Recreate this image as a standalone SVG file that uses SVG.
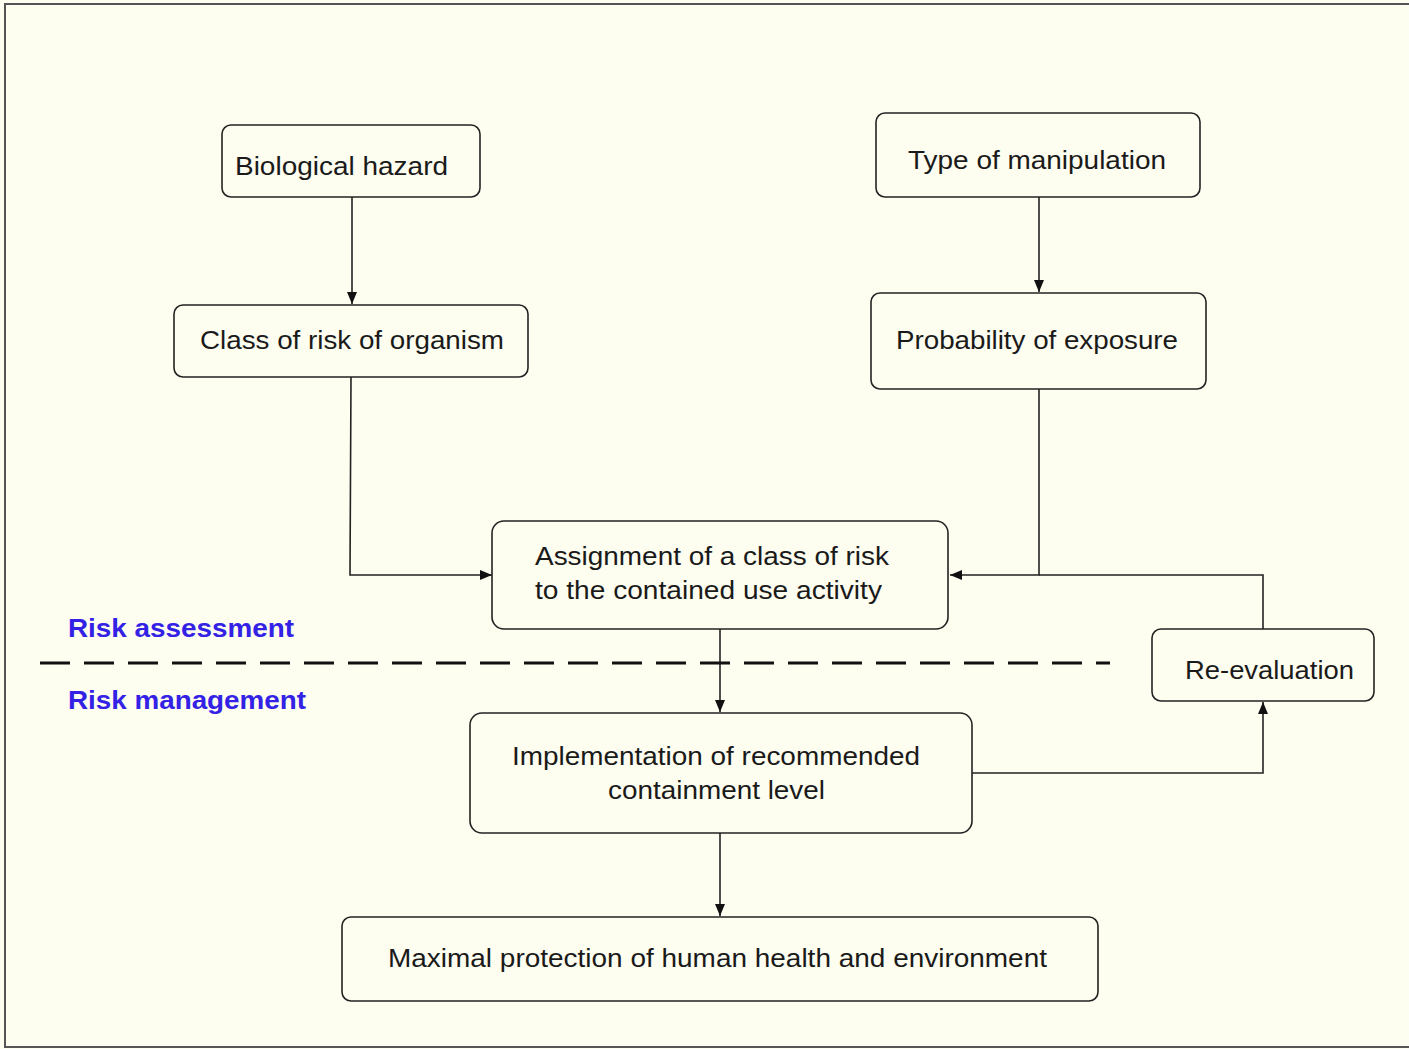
<svg xmlns="http://www.w3.org/2000/svg" width="1409" height="1049" viewBox="0 0 1409 1049">
<defs>
<marker id="arr" viewBox="0 0 12 12" refX="12" refY="6" markerWidth="12" markerHeight="12" markerUnits="userSpaceOnUse" orient="auto">
<path d="M0,1 L12,6 L0,11 Z" fill="#111"/>
</marker>
</defs>
<style>
.box{fill:none;stroke:#222;stroke-width:1.6}
.t{font-family:"Liberation Sans",Arial,sans-serif;font-size:26px;fill:#1a1a1a}
.c{stroke:#222;stroke-width:1.6;fill:none}
.lbl{font-family:"Liberation Sans",Arial,sans-serif;font-size:25px;font-weight:bold;fill:#3322e6}
</style>
<rect x="0" y="0" width="1409" height="1049" fill="#fdfdf0"/>
<rect x="5" y="4" width="1420" height="1043" fill="none" stroke="#555" stroke-width="2"/>
<g id="connectors">
<path class="c" d="M352,197 L352,304" marker-end="url(#arr)"/>
<path class="c" d="M1039,197 L1039,292" marker-end="url(#arr)"/>
<path class="c" d="M351,377 L350,575 L492,575" marker-end="url(#arr)"/>
<path class="c" d="M1039,389 L1039,575 L950,575" marker-end="url(#arr)"/>
<path class="c" d="M1263,629 L1263,575 L1039,575"/>
<path class="c" d="M720,629 L720,712" marker-end="url(#arr)"/>
<path class="c" d="M972,773 L1263,773 L1263,702" marker-end="url(#arr)"/>
<path class="c" d="M720,833 L720,916" marker-end="url(#arr)"/>
<line x1="40" y1="663" x2="1110" y2="663" stroke="#111" stroke-width="3" stroke-dasharray="30 14"/>
</g>
<g id="n-bio"><rect class="box" x="222" y="125" width="258" height="72" rx="9"/><text class="t" x="235" y="175" textLength="213" lengthAdjust="spacingAndGlyphs">Biological hazard</text></g>
<g id="n-class"><rect class="box" x="174" y="305" width="354" height="72" rx="9"/><text class="t" x="200" y="349" textLength="304" lengthAdjust="spacingAndGlyphs">Class of risk of organism</text></g>
<g id="n-type"><rect class="box" x="876" y="113" width="324" height="84" rx="9"/><text class="t" x="908" y="169" textLength="258" lengthAdjust="spacingAndGlyphs">Type of manipulation</text></g>
<g id="n-prob"><rect class="box" x="871" y="293" width="335" height="96" rx="9"/><text class="t" x="896" y="349" textLength="282" lengthAdjust="spacingAndGlyphs">Probability of exposure</text></g>
<g id="n-assign"><rect class="box" x="492" y="521" width="456" height="108" rx="12"/><text class="t" x="535" y="565" textLength="354" lengthAdjust="spacingAndGlyphs">Assignment of a class of risk</text><text class="t" x="535" y="599" textLength="347" lengthAdjust="spacingAndGlyphs">to the contained use activity</text></g>
<g id="n-reeval"><rect class="box" x="1152" y="629" width="222" height="72" rx="9"/><text class="t" x="1185" y="679" textLength="169" lengthAdjust="spacingAndGlyphs">Re-evaluation</text></g>
<g id="n-impl"><rect class="box" x="470" y="713" width="502" height="120" rx="12"/><text class="t" x="512" y="765" textLength="408" lengthAdjust="spacingAndGlyphs">Implementation of recommended</text><text class="t" x="608" y="799" textLength="217" lengthAdjust="spacingAndGlyphs">containment level</text></g>
<g id="n-max"><rect class="box" x="342" y="917" width="756" height="84" rx="9"/><text class="t" x="388" y="967" textLength="659" lengthAdjust="spacingAndGlyphs">Maximal protection of human health and environment</text></g>
<g id="labels"><text class="lbl" x="68" y="637" textLength="226" lengthAdjust="spacingAndGlyphs">Risk assessment</text><text class="lbl" x="68" y="709" textLength="238" lengthAdjust="spacingAndGlyphs">Risk management</text></g>
</svg>
